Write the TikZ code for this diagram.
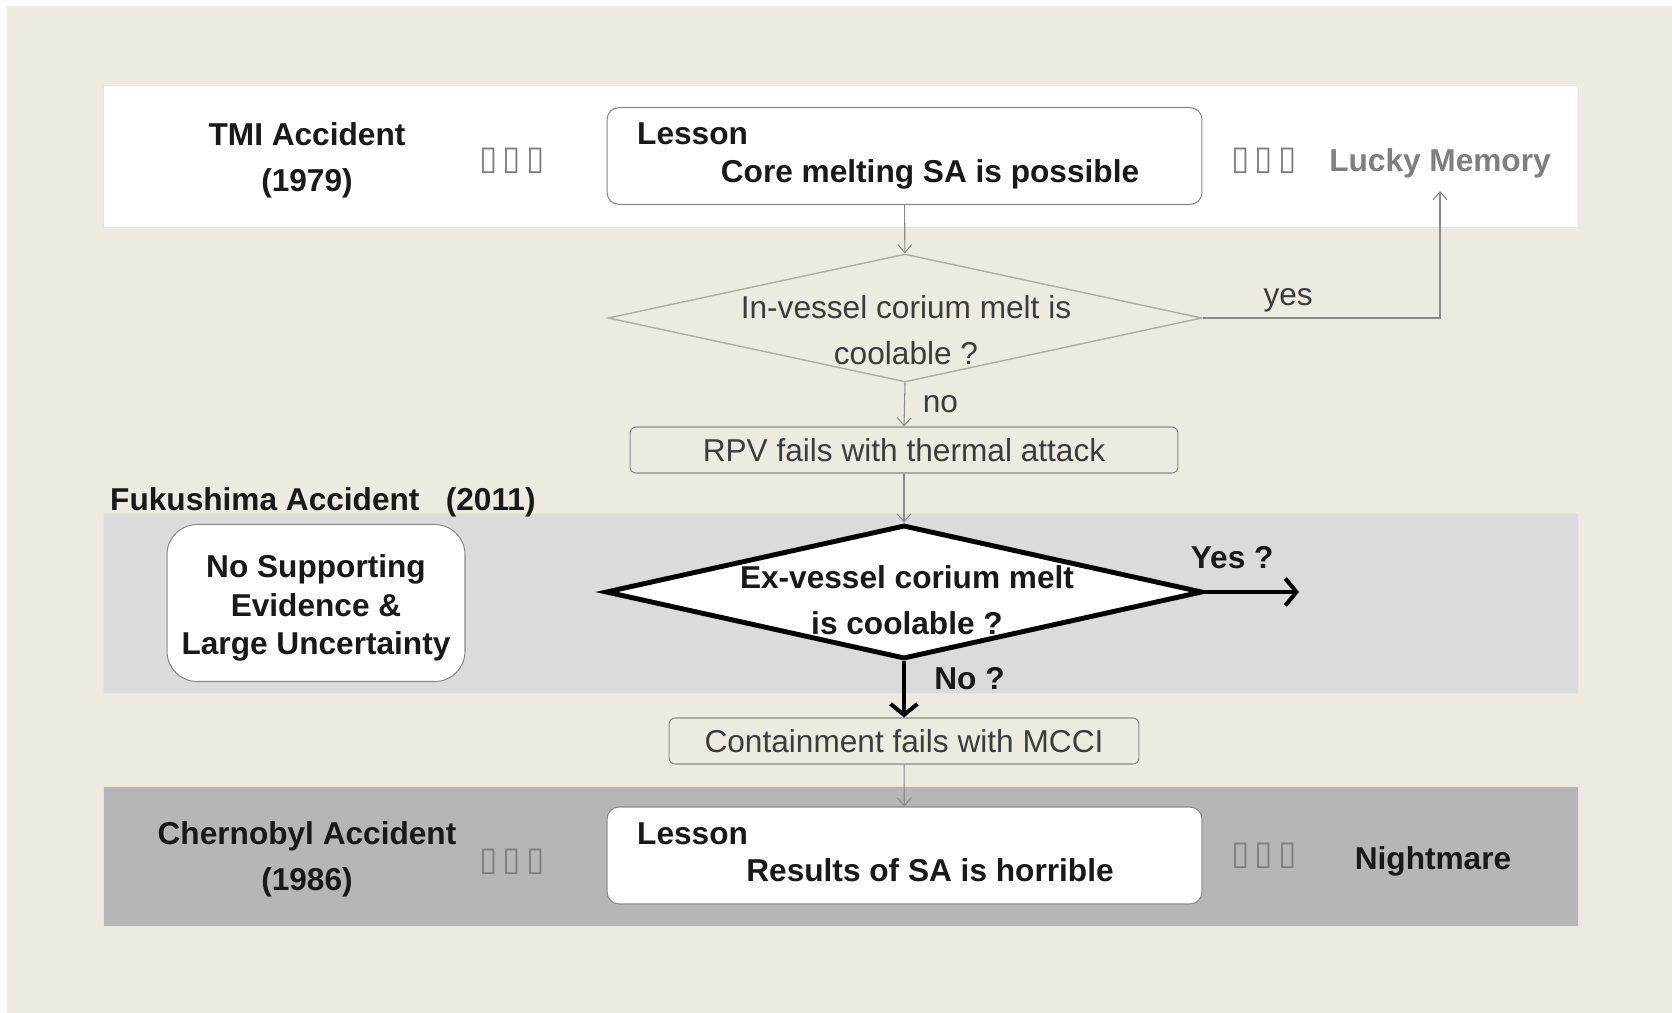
\documentclass[tikz,border=0pt]{standalone}
\usepackage{fontspec}
\setmainfont{Liberation Sans}
\newfontfamily\symfont{DejaVu Sans}
\usetikzlibrary{arrows.meta,positioning,calc,shapes.geometric}

\definecolor{paper}{HTML}{EDEBE0}
\definecolor{bandlight}{HTML}{DBDBDB}
\definecolor{banddark}{HTML}{B6B6B6}
\definecolor{linegray}{HTML}{8A8A8A}
\definecolor{diagray}{HTML}{ADADA3}
\definecolor{textgray}{HTML}{3C3C3C}
\definecolor{memgray}{HTML}{7F7F7F}

\begin{document}
\begin{tikzpicture}[
      x=0.02cm, y=-0.02cm,
      font=\fontsize{18}{26}\selectfont,
      lbl/.style={font=\fontsize{18}{26}\selectfont\bfseries, align=center, text=black!90},
      plain/.style={font=\fontsize{18}{26}\selectfont, align=center, text=textgray},
      lesson/.style={draw=linegray, fill=white, rounded corners=0.24cm, line width=0.6pt, minimum width=11.9cm, minimum height=1.94cm},
      flowbox/.style={draw=linegray, rounded corners=0.12cm, line width=0.6pt, minimum height=0.92cm},
      dots/.style={font=\symfont\fontsize{19}{19}\selectfont, text=memgray},
      band/.style={draw=black!10, line width=0.5pt},
      flow/.style={draw=linegray, line width=0.6pt, -{Straight Barb[length=1.6mm,width=2.8mm]}},
      flowbold/.style={draw=black, line width=2.3pt, -{Straight Barb[length=2.2mm,width=5.4mm]}}
    ]
    \useasboundingbox (0,0) rectangle (1672,1013);
    % Background and bands
    \fill[white] (0,0) rectangle (1672,1013);
    \fill[paper] (7,6) rectangle (1672,1013);
    \filldraw[band, fill=white] (103,85) rectangle (1578,227);
    \filldraw[band, fill=bandlight] (103,513) rectangle (1578,693);
    \filldraw[band, fill=banddark] (103,786) rectangle (1578,926);

    % TMI row
    \node[lbl] (tmi) at (307,160) {TMI Accident\\(1979)};
    \node[dots] (dotsa) at (512,161) {▯\hspace{3pt}▯\hspace{3pt}▯};
    \node[lesson] (les1) at (904.5,156) {};
    \node[lbl, anchor=west] (les1head) at (631,134) {Lesson};
    \node[lbl] (les1body) at (930,174) {Core melting SA is possible};
    \node[dots] (dotsb) at (1264,161) {▯\hspace{3pt}▯\hspace{3pt}▯};
    \node[lbl, text=memgray] (lucky) at (1440,163) {Lucky Memory};

    % In-vessel decision
    \node[diamond, draw=diagray, line width=0.8pt, inner sep=0pt, minimum width=11.88cm, minimum height=2.56cm] (d1) at (905,318) {};
    \node[plain] (d1txt) at (906,330) {In-vessel corium melt is\\coolable ?};
    \draw[flow] (les1) -- (d1);
    \draw[flow, shorten >=4pt] (d1.east) -| node[pos=0.18, above, plain] (yeslbl) {yes} (lucky.south);

    \node[flowbox, minimum width=10.96cm, plain] (rpv) at (904,450) {RPV fails with thermal attack};
    \draw[flow] (d1.south) -- node[right=0.24cm, plain] (nolbl) {no} (rpv.north);

    % Fukushima row
    \node[lbl, anchor=west] (fuku) at (104,502) {Fukushima Accident\ \ \ (2011)};
    \node[draw=linegray, fill=white, rounded corners=0.6cm, line width=0.6pt, minimum width=5.96cm, minimum height=3.14cm] (nosup) at (316,603) {};
    \node[lbl, font=\fontsize{18}{22}\selectfont\bfseries] (nosuptxt) at (316,608) {No Supporting\\Evidence \&\\Large Uncertainty};
    \node[diamond, draw=black, fill=white, line width=2.8pt, inner sep=0pt, minimum width=11.94cm, minimum height=2.68cm] (d2) at (904,592) {};
    \node[lbl] (d2txt) at (907,600) {Ex-vessel corium melt\\is coolable ?};
    \draw[flow] (rpv) -- (d2.north);
    \coordinate (yesend) at (1299,592);
    \draw[flowbold] (d2.east) -- node[pos=0.29, above=0.3cm, lbl] (yesq) {Yes ?} (yesend);

    \node[flowbox, minimum width=9.4cm, plain] (contain) at (904,741) {Containment fails with MCCI};
    \draw[flowbold] (d2.south) -- node[pos=0.3, right=0.45cm, lbl] (noq) {No ?} (contain.north);

    % Chernobyl row
    \node[lbl] (cher) at (307,859) {Chernobyl Accident\\(1986)};
    \node[dots] (dotsc) at (512,862) {▯\hspace{3pt}▯\hspace{3pt}▯};
    \node[lesson] (les2) at (904.5,855.5) {};
    \node[lbl, anchor=west] (les2head) at (631,834) {Lesson};
    \node[lbl] (les2body) at (930,870) {Results of SA is horrible};
    \node[dots] (dotsd) at (1264,856) {▯\hspace{3pt}▯\hspace{3pt}▯};
    \node[lbl] (night) at (1433,861) {Nightmare};
    \draw[flow] (contain) -- (les2);

    \end{tikzpicture}
\end{document}
